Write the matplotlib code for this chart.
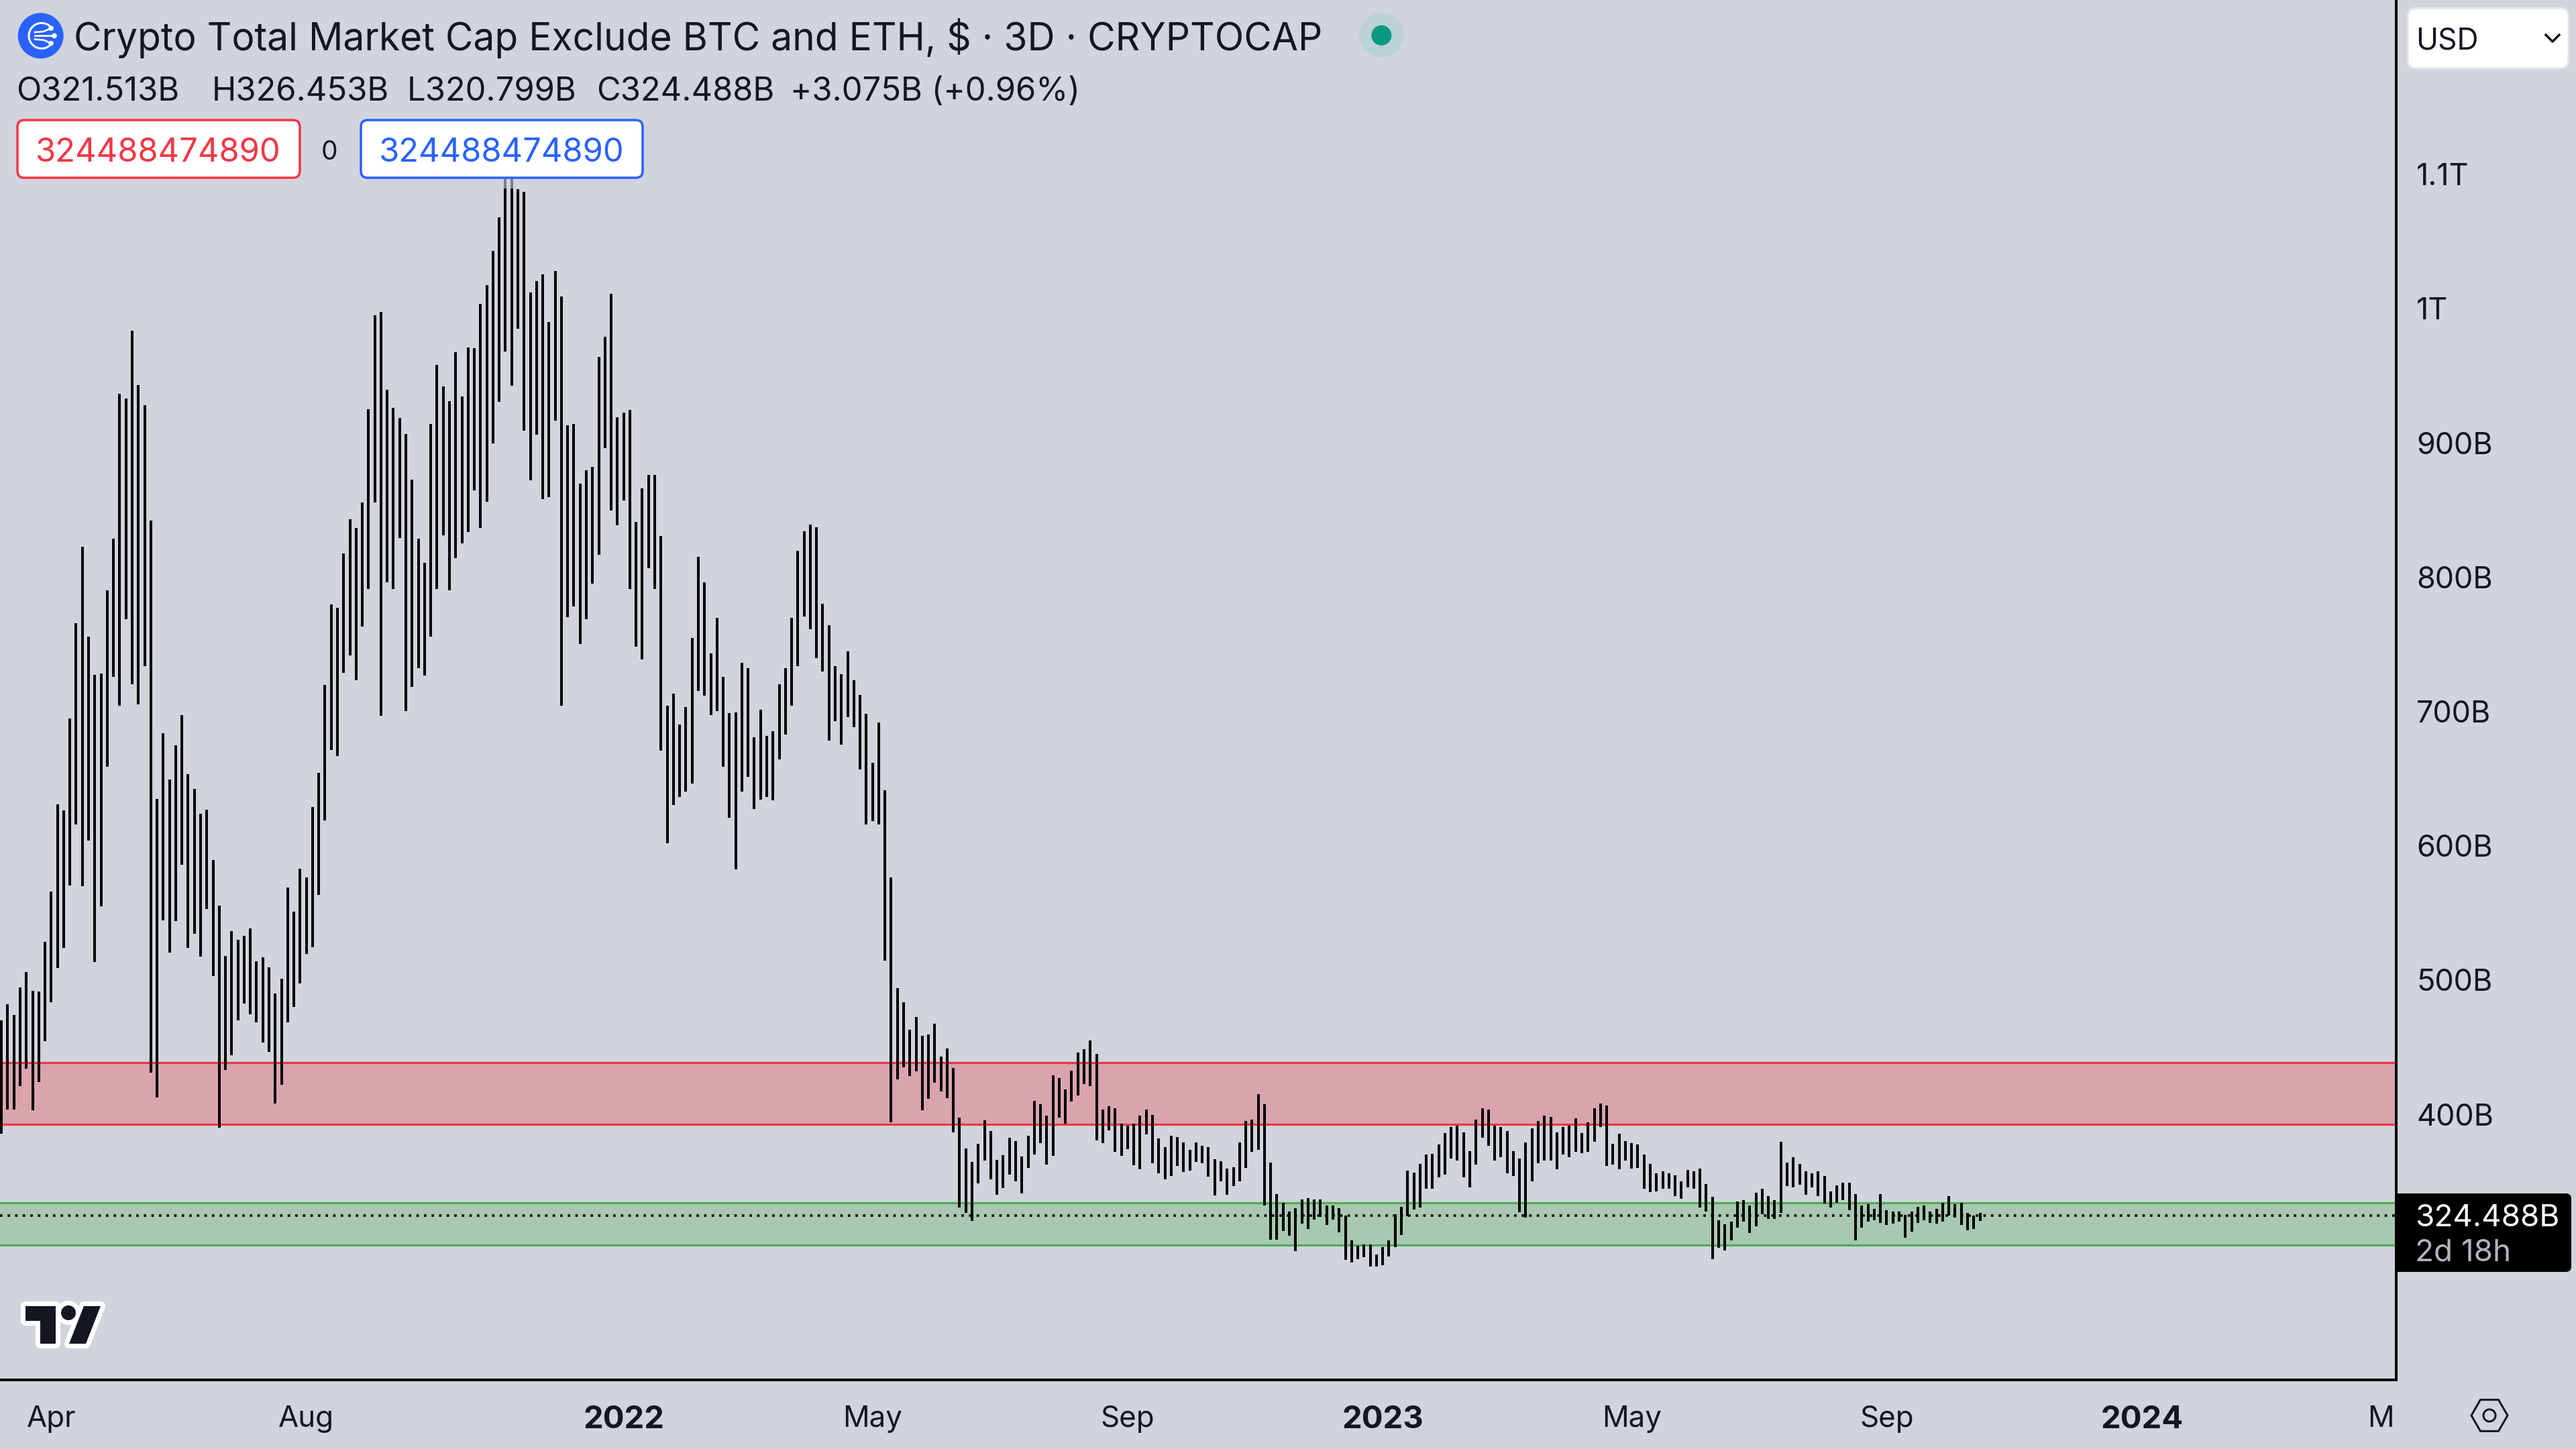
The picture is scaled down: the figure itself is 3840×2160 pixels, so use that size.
import numpy as np
import matplotlib
matplotlib.use('Agg')
import matplotlib.pyplot as plt
from matplotlib.patches import Circle, FancyBboxPatch, Polygon, Rectangle, RegularPolygon, Arc

plt.rcParams['font.family'] = ['Inter', 'DejaVu Sans']

# high / low of each 3D bar, in billions of USD
bar_high = [
    469.7, 482.1, 474.0, 494.5, 506.0, 492.1, 491.2, 528.5, 565.7, 630.7,
    626.4, 694.8, 765.5, 822.8, 755.9, 727.3, 728.2, 790.3, 828.6, 936.6,
    932.8, 983.4, 942.8, 928.0, 842.0, 635.0, 683.8, 649.4, 674.7, 697.2,
    653.2, 642.2, 624.0, 626.9, 589.1, 555.2, 517.9, 536.6, 529.9, 532.8,
    538.5, 514.1, 517.0, 509.3, 489.7, 500.7, 568.6, 550.9, 582.9, 576.2,
    628.8, 654.1, 719.6, 779.8, 777.0, 817.6, 842.9, 836.7, 855.8, 925.1,
    994.9, 997.3, 939.4, 926.1, 918.4, 906.5, 872.5, 828.6, 810.4, 914.1,
    958.1, 941.8, 930.8, 967.6, 934.7, 971.0,
    970.5, 1003.5, 1017.3, 1042.7, 1068.0, 1105.0, 1100.0, 1089.0, 1086.6, 1012.1,
    1020.2, 1025.5, 990.1, 1027.9, 1008.7, 913.2, 914.1, 869.7, 879.7, 882.1,
    963.8, 979.1, 1010.7, 918.9, 922.7, 924.6, 841.0, 866.3, 875.9, 875.9,
    830.5, 704.3, 713.4, 690.0, 703.4, 754.5, 815.2, 796.1, 743.0, 769.8,
    725.8, 698.6, 699.1, 736.3, 732.0, 680.9, 701.0, 681.9, 685.2, 720.1,
    732.0, 769.8, 819.5, 834.3, 839.1, 837.2, 780.3, 764.1, 733.9, 727.7,
    744.9, 723.0, 712.4, 698.1, 661.8, 691.9, 641.2, 576.2, 494.0, 483.5,
    463.0, 472.5, 458.7, 459.6, 467.3,
    442.9, 449.2, 434.6, 397.6, 374.7, 364.4, 378.1, 395.3, 387.6, 365.8,
    369.5, 382.7, 380.1, 368.7, 384.2, 410.0, 407.4, 398.8, 428.9, 426.9,
    418.6, 432.6, 445.8, 448.4, 455.0, 444.9, 403.4, 406.2, 404.5, 393.0,
    391.6, 393.0, 398.8, 403.4, 399.6, 381.9, 375.3, 383.9, 383.0, 379.0,
    373.3, 379.0, 376.4, 375.3, 366.7, 364.9, 359.5, 360.4, 379.0, 395.0,
    395.9, 414.8, 407.4, 364.1, 340.6, 334.0, 327.4, 330.0, 336.6, 337.7,
    336.6, 336.6, 332.3, 332.0, 330.3, 324.8, 305.9, 302.2, 303.0, 303.0,
    295.6, 301.0, 305.9, 325.7, 331.1, 358.1,
    356.7, 363.2, 369.8, 370.7, 377.3, 385.8, 390.5, 391.5, 386.6, 372.6,
    396.0, 404.5, 403.5, 391.3, 390.3, 387.6, 372.5, 367.0, 379.1, 389.6,
    395.0, 398.8, 398.0, 386.6, 390.5, 391.5, 397.0, 385.8, 394.1, 404.5,
    408.1, 406.3, 378.1, 385.6, 380.0, 378.3, 377.5,
    370.0, 363.2, 355.9, 357.7, 355.9, 354.7, 350.1, 358.5, 357.7, 359.5,
    348.2, 338.7, 321.1, 318.3, 320.1, 335.1, 335.9, 332.2, 341.7, 344.4,
    338.9, 335.9, 379.4, 364.0, 367.9, 363.2, 357.7, 355.9, 357.7, 353.9,
    342.6, 347.2, 349.2, 349.2, 340.7, 332.2, 333.2, 329.4, 340.7, 328.6,
    327.6, 327.6, 324.9, 327.6, 331.2, 332.2, 327.6, 329.4, 334.2, 338.9,
    333.2, 334.2, 326.6, 324.7, 326.453,
]
bar_low = [
    385.6, 403.7, 403.7, 420.9, 433.8, 402.8, 423.8, 454.4, 483.5, 508.9,
    523.7, 570.5, 615.9, 570.0, 604.0, 513.6, 554.7, 658.9, 725.8, 704.3,
    768.8, 720.1, 705.3, 733.9, 431.0, 412.3, 544.2, 520.3, 543.7, 585.8,
    523.7, 534.2, 517.5, 552.8, 503.1, 389.9, 432.9, 443.9, 470.1, 482.6,
    474.4, 468.2, 453.4, 446.7, 408.0, 421.9, 468.2, 479.7, 497.4, 519.4,
    524.6, 563.3, 618.8, 671.3, 666.6, 728.7, 741.6, 723.4, 763.1, 791.3,
    855.8, 696.7, 796.1, 791.3, 829.1, 700.0, 718.2, 732.0, 726.8, 755.5,
    791.3, 831.0, 790.3, 814.2, 825.2, 833.4,
    864.4, 836.7, 856.3, 899.3, 930.4, 968.1, 942.3, 984.8, 908.9, 872.1,
    906.0, 858.2, 859.6, 916.5, 704.3, 770.3, 777.9, 750.2, 768.8, 795.1,
    816.6, 896.0, 849.6, 838.6, 857.2, 791.3, 748.3, 738.7, 806.6, 791.3,
    670.9, 601.6, 630.2, 636.5, 640.3, 646.5, 715.3, 711.5, 697.2, 700.0,
    658.9, 620.7, 582.5, 640.3, 651.3, 627.4, 634.5, 636.5, 633.6, 664.2,
    682.8, 704.3, 733.9, 770.7, 761.2, 739.7, 729.6, 678.0, 692.8, 675.2,
    695.7, 688.1, 657.0, 615.9, 618.3, 615.9, 514.6, 394.2, 426.2, 434.8,
    428.6, 431.9, 402.8, 411.4, 423.3,
    417.1, 412.2, 386.7, 330.8, 326.8, 320.5, 348.6, 365.5, 351.5, 340.3,
    344.9, 355.2, 350.3, 341.1, 359.8, 370.1, 378.4, 362.6, 369.2, 397.3,
    392.8, 409.7, 414.0, 422.6, 420.8, 380.4, 378.7, 388.2, 372.1, 369.2,
    373.8, 361.8, 358.9, 385.0, 363.5, 356.1, 351.5, 354.0, 361.5, 357.2,
    357.8, 364.7, 363.5, 353.5, 339.4, 350.3, 340.3, 346.6, 350.3, 360.1,
    372.1, 373.3, 332.0, 306.5, 306.5, 313.3, 309.6, 297.9, 318.5, 314.8,
    321.7, 323.7, 317.6, 321.7, 312.2, 291.5, 289.8, 292.1, 293.8, 286.7,
    286.7, 287.5, 294.1, 301.0, 310.2, 323.9,
    328.9, 330.5, 344.7, 344.7, 353.2, 355.0, 367.2, 365.3, 353.2, 345.5,
    362.7, 382.3, 376.6, 365.3, 368.2, 356.0, 354.0, 326.9, 323.0, 350.3,
    363.5, 365.3, 365.3, 358.8, 370.0, 368.2, 371.8, 371.0, 371.8, 379.3,
    390.5, 361.7, 362.5, 358.8, 365.3, 359.7, 359.8,
    344.7, 341.9, 342.7, 344.6, 344.6, 338.9, 337.1, 345.6, 344.6, 330.6,
    327.7, 291.9, 300.6, 298.6, 306.1, 315.6, 320.1, 311.8, 316.4, 325.7,
    322.2, 322.2, 326.7, 346.4, 345.6, 347.4, 339.9, 345.6, 338.9, 333.4,
    330.6, 334.2, 336.1, 328.7, 306.1, 315.6, 320.1, 321.1, 319.3, 317.4,
    318.4, 320.1, 308.1, 312.8, 319.3, 321.1, 319.3, 318.4, 320.1, 324.4,
    323.1, 317.4, 313.6, 314.4, 320.799,
]

last_close = 324.488
red_zone = [392.5, 438.5]
green_zone = [302.4, 334.2]

price_ticks = [400, 500, 600, 700, 800, 900, 1000, 1100]
price_labels = ['400B', '500B', '600B', '700B', '800B', '900B', '1T', '1.1T']
time_ticks = [8, 49, 100, 140, 181, 222, 262, 303, 344, 382.4]
time_labels = ['Apr', 'Aug', '2022', 'May', 'Sep', '2023', 'May', 'Sep', '2024', 'M']

ohlc_texts = ['O321.513B', 'H326.453B', 'L320.799B', 'C324.488B', '+3.075B (+0.96%)']
ohlc_left = [24, 316, 607, 889, 1178]

BG = '#D1D4DC'
INK = '#131722'
RED = '#F23645'
GREEN = '#4CAF50'
BLUE = '#2962FF'
W, H = 3840, 2160
PX = 72 / 200  # points per output pixel

fig = plt.figure(figsize=(W / 200, H / 200), dpi=200, facecolor=BG)
ax = fig.add_axes([0, (H - 2057) / H, 3572 / W, 2057 / H], facecolor=BG)

x = np.arange(len(bar_high))
ax.axhspan(red_zone[0], red_zone[1], facecolor=RED, alpha=0.3, lw=0, zorder=1)
ax.axhspan(green_zone[0], green_zone[1], facecolor=GREEN, alpha=0.3, lw=0, zorder=1)
for lvl in red_zone:
    ax.axhline(lvl, color=RED, lw=3.2 * PX, zorder=2)
for lvl in green_zone:
    ax.axhline(lvl, color=GREEN, lw=3.2 * PX, zorder=2)
ax.axhline(last_close, color='black', lw=3.7 * PX, linestyle=(0, (1, 2.05)), zorder=3)
ax.vlines(x, bar_low, bar_high, colors='black', lw=4 * PX, zorder=4)

ax.set_xlim(-0.237, 384.9)
ax.set_ylim(202.2, 1229.7)
for side in ['top', 'left']:
    ax.spines[side].set_visible(False)
for side in ['right', 'bottom']:
    ax.spines[side].set_color('black')
    ax.spines[side].set_linewidth(4 * PX)

ax.yaxis.tick_right()
ax.set_yticks(price_ticks)
ax.set_yticklabels(price_labels, fontsize=16.2, color=INK)
ax.tick_params(axis='y', length=0, pad=30 * PX)
ax.set_xticks(time_ticks)
ax.set_xticklabels(time_labels, fontsize=15.8, color=INK)
ax.tick_params(axis='x', length=0, pad=38 * PX)
for lab in ax.get_xticklabels():
    if lab.get_text().isdigit():
        lab.set_fontweight('bold')
        lab.set_fontsize(17)

# everything around the chart is placed in screen pixels
ov = fig.add_axes([0, 0, 1, 1], zorder=5)
ov.set_xlim(0, W)
ov.set_ylim(H, 0)
ov.axis('off')

# translucent legend strip over the bars
ov.add_patch(Rectangle((0, 0), 1000, 281, facecolor=BG, alpha=0.6, lw=0))

# symbol logo
ov.add_patch(Circle((60.7, 53.3), 34, facecolor=BLUE, lw=0))
ov.add_patch(Arc((62, 53.3), 38, 38, theta1=50, theta2=310, color='white', lw=3 * PX))
ov.plot([52, 80], [53.3, 53.3], color='white', lw=2.6 * PX)
ov.plot([52, 65, 76], [48, 47, 42], color='white', lw=2.6 * PX)
ov.plot([52, 65, 76], [58.6, 59.6, 64.6], color='white', lw=2.6 * PX)
for dot in [(81, 53.3), (76, 42), (76, 64.6)]:
    ov.add_patch(Circle(dot, 3.8, facecolor='white', lw=0))

ov.text(110, 57, 'Crypto Total Market Cap Exclude BTC and ETH, $ · 3D · CRYPTOCAP',
        fontsize=20.5, color=INK, va='center', ha='left')

# market status dot
ov.add_patch(Circle((2059.3, 52.7), 33, facecolor='#BBD2D6', lw=0))
ov.add_patch(Circle((2059.3, 52.7), 15, facecolor='#089981', lw=0))

for txt, left in zip(ohlc_texts, ohlc_left):
    ov.text(left, 137, txt, fontsize=17.6, color=INK, va='center', ha='left')

# buy / sell boxes
ov.add_patch(FancyBboxPatch((26, 179), 421, 86, boxstyle='round,pad=0,rounding_size=10',
                            facecolor='white', edgecolor=RED, lw=3.5 * PX))
ov.text(236, 228, '324488474890', fontsize=17.6, color=RED, va='center', ha='center')
ov.text(491, 228, '0', fontsize=14, color=INK, va='center', ha='center')
ov.add_patch(FancyBboxPatch((538, 179), 420, 86, boxstyle='round,pad=0,rounding_size=10',
                            facecolor='white', edgecolor=BLUE, lw=3.5 * PX))
ov.text(748, 228, '324488474890', fontsize=17.6, color=BLUE, va='center', ha='center')

# currency selector
ov.add_patch(FancyBboxPatch((3589, 12), 240, 90, boxstyle='round,pad=0,rounding_size=12',
                            facecolor='white', edgecolor='#E0E3EB', lw=3 * PX))
ov.text(3601, 61, 'USD', fontsize=16, color=INK, va='center', ha='left')
ov.plot([3795, 3805, 3815], [52, 62, 52], color=INK, lw=3.5 * PX)

# last price tag
ov.add_patch(FancyBboxPatch((3770, 1779), 63, 117, boxstyle='round,pad=0,rounding_size=8',
                            facecolor='black', lw=0))
ov.add_patch(Rectangle((3570, 1779), 240, 117, facecolor='black', lw=0))
ov.text(3600, 1816, '324.488B', fontsize=16.5, color='white', va='center', ha='left')
ov.text(3600, 1868, '2d 18h', fontsize=16.5, color='#B2B5BE', va='center', ha='left')

# settings hexagon
ov.add_patch(RegularPolygon((3711, 2110), 6, radius=27, orientation=np.pi / 2,
                            facecolor='none', edgecolor=INK, lw=3 * PX))
ov.add_patch(Circle((3711, 2110), 9, facecolor='none', edgecolor=INK, lw=3 * PX))

# TradingView mark
tv_shapes = [
    Polygon([(38, 1947), (83, 1947), (83, 2003), (60, 2003), (60, 1969), (38, 1969)]),
    Polygon([(125, 1947), (150, 1947), (128, 2003), (103, 2003)]),
    Circle((102, 1957), 11),
]
for shape in tv_shapes:
    shape.set(facecolor=INK, edgecolor='white', lw=14 * PX, joinstyle='round')
    ov.add_patch(shape)
for shape in tv_shapes:
    fill = Polygon(shape.get_xy()) if isinstance(shape, Polygon) else Circle((102, 1957), 11)
    fill.set(facecolor=INK, edgecolor='none')
    ov.add_patch(fill)

fig.savefig('out.png', dpi=200, facecolor=BG)
